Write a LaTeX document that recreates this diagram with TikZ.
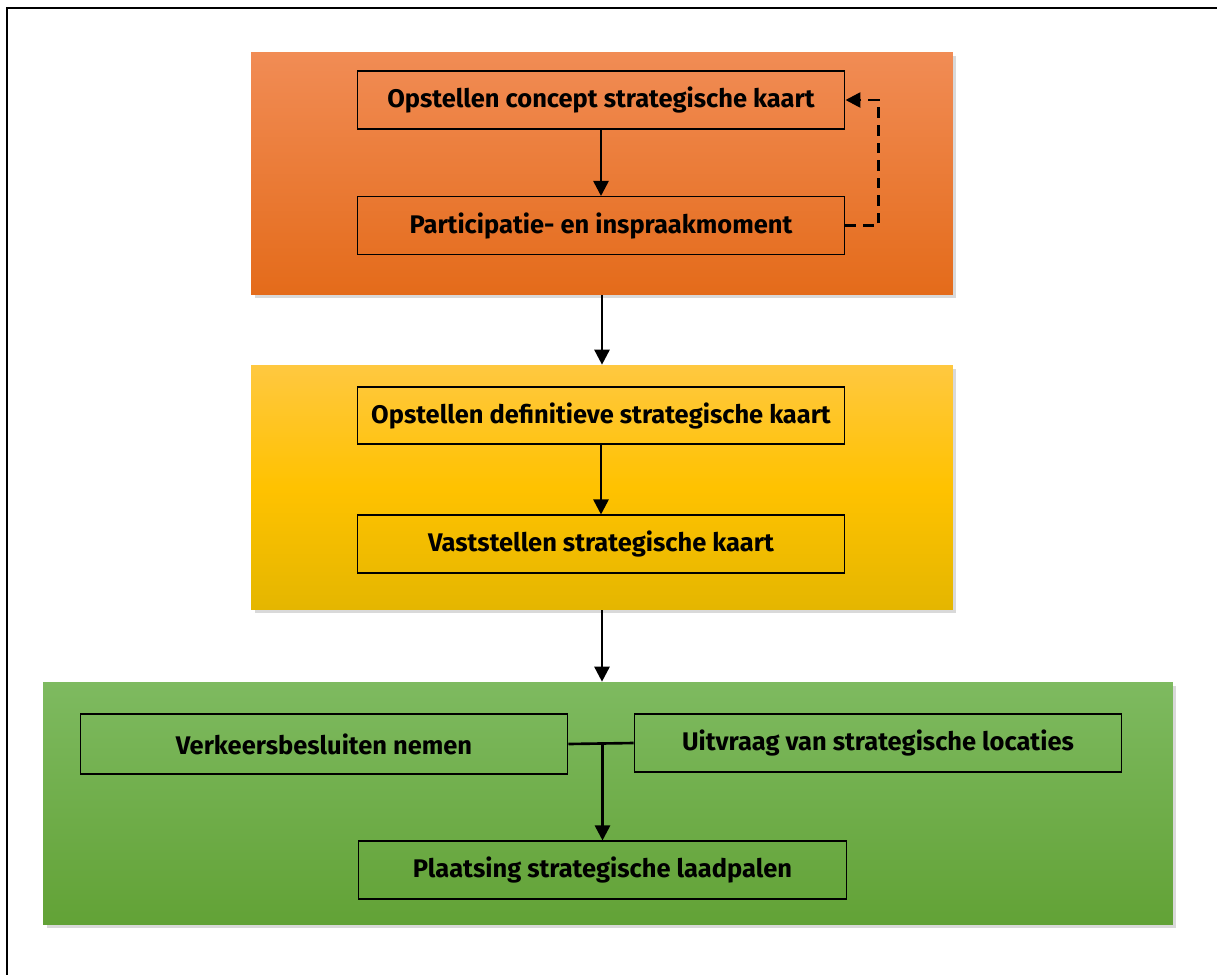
\documentclass[tikz,border=0pt]{standalone}
\usepackage{fontspec}
\setmainfont{Fira Sans}
\usetikzlibrary{arrows.meta,shadows,positioning}
\definecolor{oranjeboven}{RGB}{241,140,85}
\definecolor{oranjeonder}{RGB}{228,107,26}
\definecolor{geelboven}{RGB}{255,200,64}
\definecolor{geelmidden}{RGB}{255,194,0}
\definecolor{geelonder}{RGB}{228,182,0}
\definecolor{groenboven}{RGB}{126,186,96}
\definecolor{groenonder}{RGB}{98,162,54}
\tikzset{
  paneel/.style={minimum width=14.04cm,minimum height=4.86cm,inner sep=0,
    drop shadow={shadow xshift=0.07cm,shadow yshift=-0.07cm,opacity=0.3}},
  stap/.style={draw=black,line width=0.6pt,minimum width=9.76cm,minimum height=1.16cm,
    inner sep=0,font=\bfseries\fontsize{14.5}{16}\selectfont},
  pijl/.style={line width=1.5pt,-{Triangle[length=0.3cm,width=0.3cm]}}
}
\begin{document}
\begin{tikzpicture}[x=0.02cm,y=-0.02cm]
\useasboundingbox (0,0) rectangle (1217,974);
\draw[line width=1.2pt](7,980)--(7,8)--(1225,8);
% fasen
\node[paneel,top color=oranjeboven,bottom color=oranjeonder](oranje) at (602,173.5){};
\node[paneel,minimum height=4.9cm,top color=geelboven,bottom color=geelonder,middle color=geelmidden](geel) at (602,487.5){};
\node[paneel,minimum width=22.6cm,top color=groenboven,bottom color=groenonder](groen) at (608,803.5){};
% stappen
\node[stap](concept) at (601,100){Opstellen concept strategische kaart};
\node[stap](inspraak) at (601,225.5){Participatie- en inspraakmoment};
\node[stap,minimum height=1.14cm](definitief) at (601,415.5){Opstellen definitieve strategische kaart};
\node[stap](vaststellen) at (601,544){Vaststellen strategische kaart};
\node[stap,minimum height=1.2cm](besluiten) at (324,744){Verkeersbesluiten nemen};
\node[stap](uitvraag) at (878,743){Uitvraag van strategische locaties};
\node[stap](plaatsing) at (602.5,870){Plaatsing strategische laadpalen};
% verbindingen
\draw[pijl](concept)--(inspraak);
\draw[pijl,dashed,dash pattern=on 6pt off 4pt](inspraak.east)--++(33,0)|-(concept.east);
\draw[pijl](oranje)--(geel);
\draw[pijl](definitief)--(vaststellen);
\draw[pijl](geel.south)--(geel.south|-groen.north);
\coordinate(knoop) at (plaatsing.north|-besluiten.east);
\draw[line width=1.5pt](besluiten.east)--(uitvraag.west);
\draw[pijl](knoop)--(plaatsing);
\end{tikzpicture}
\end{document}
